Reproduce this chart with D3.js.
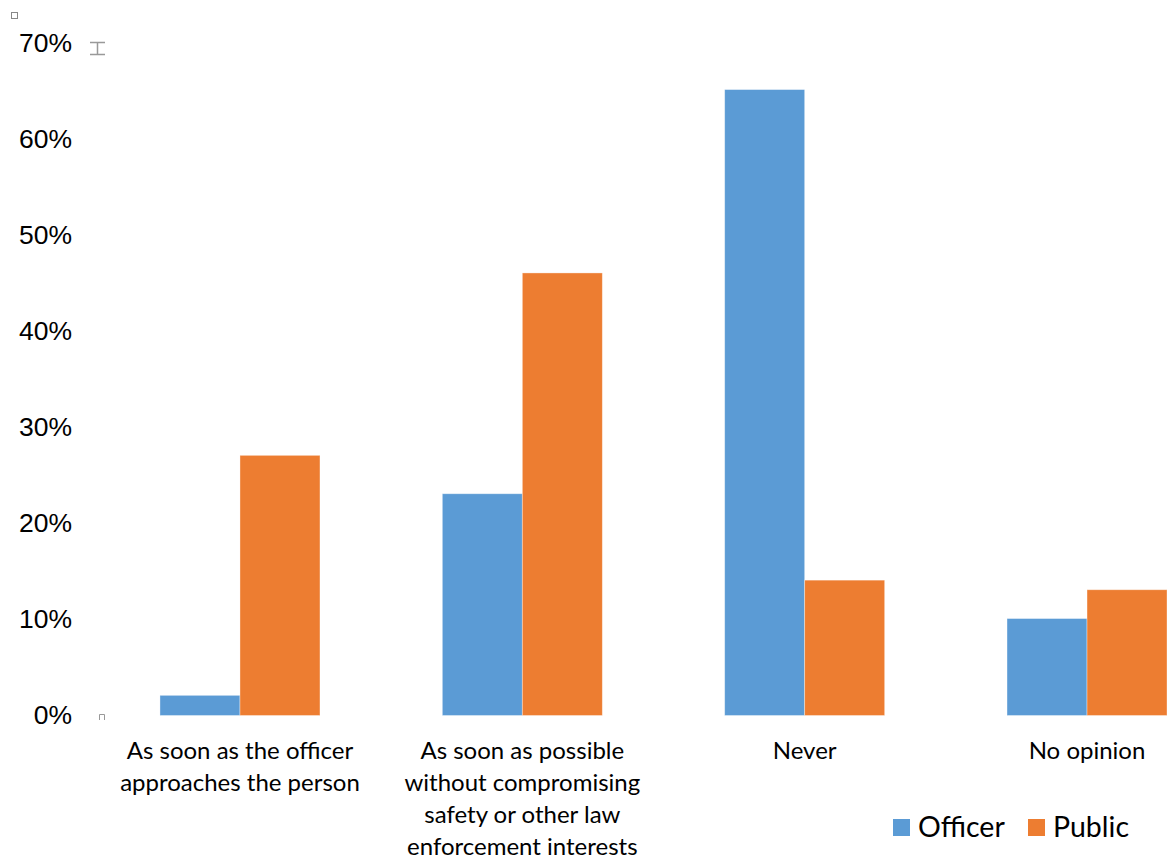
<!DOCTYPE html>
<html>
<head>
<meta charset="utf-8">
<script src="https://cdn.jsdelivr.net/npm/d3@7/dist/d3.min.js"></script>
<style>
  html, body { margin: 0; padding: 0; background: #fff; }
  svg { display: block; }
</style>
</head>
<body>
<div id="chart"></div>
<script>
const categories = [
  "As soon as the officer approaches the person",
  "As soon as possible without compromising safety or other law enforcement interests",
  "Never",
  "No opinion"
];
const categoryLines = [
  ["As soon as the officer", "approaches the person"],
  ["As soon as possible", "without compromising", "safety or other law", "enforcement interests"],
  ["Never"],
  ["No opinion"]
];
const seriesNames = ["Officer", "Public"];
const officerValues = [2.1, 23.1, 65.2, 10.1];
const publicValues = [27.1, 46.1, 14.1, 13.1];
const yTicks = [0, 10, 20, 30, 40, 50, 60, 70];
const colors = ["#5B9BD5", "#ED7D31"];

const W = 1167, H = 857;
const svg = d3.select("#chart").append("svg").attr("width", W).attr("height", H);

const y = d3.scaleLinear().domain([0, 70]).range([715.5, 43.5]);
const x0 = d3.scaleBand().domain(categories).range([98.8, 1228.2])
  .paddingInner(0.4333).paddingOuter(0.21665);
const x1 = d3.scaleBand().domain(seriesNames).range([0, x0.bandwidth()]).padding(0);

const rows = categories.map((c, i) => ({
  cat: c,
  vals: [
    { s: "Officer", v: officerValues[i] },
    { s: "Public", v: publicValues[i] }
  ]
}));

const color = d3.scaleOrdinal().domain(seriesNames).range(colors);

// bars
const g = svg.append("g");
g.selectAll("g.grp").data(rows).join("g")
  .attr("class", "grp")
  .attr("transform", d => `translate(${x0(d.cat)},0)`)
  .selectAll("rect").data(d => d.vals).join("rect")
  .attr("x", d => x1(d.s))
  .attr("width", x1.bandwidth())
  .attr("y", d => y(d.v))
  .attr("height", d => y(0) - y(d.v))
  .attr("fill", d => color(d.s))
  .attr("stroke", "#ffffff")
  .attr("stroke-opacity", 0.45)
  .attr("stroke-width", 0.8);

// y axis (labels only)
const yAxis = d3.axisLeft(y).tickValues(yTicks).tickFormat(d => d + "%").tickSize(0).tickPadding(0);
const ya = svg.append("g").attr("transform", "translate(72,0)").call(yAxis);
ya.select(".domain").remove();
ya.selectAll("text")
  .attr("font-family", "Liberation Sans, Arial, sans-serif")
  .attr("font-size", 26.5)
  .attr("fill", "#000")
  .attr("dy", "0.32em");

// category labels
const xl = svg.append("g");
rows.forEach((r, i) => {
  const cx = x0(r.cat) + x0.bandwidth() / 2;
  const t = xl.append("text")
    .attr("x", cx)
    .attr("y", 758.5)
    .attr("text-anchor", "middle")
    .attr("font-family", "Lato, 'Open Sans', sans-serif")
    .attr("font-size", 24)
    .attr("fill", "#000");
  categoryLines[i].forEach((ln, j) => {
    t.append("tspan").attr("x", cx).attr("y", 758.5 + j * 32).text(ln);
  });
});

// legend
const legendX = [893, 1028];
const leg = svg.append("g");
seriesNames.forEach((s, i) => {
  leg.append("rect").attr("x", legendX[i]).attr("y", 819).attr("width", 17).attr("height", 17)
    .attr("fill", color(s));
  leg.append("text").attr("x", legendX[i] + 25).attr("y", 837)
    .attr("font-family", "Lato, 'Open Sans', sans-serif")
    .attr("font-size", 28.5)
    .attr("fill", "#000")
    .text(s);
});

// small UI artifacts present in the reference picture
const art = svg.append("g").attr("fill", "none").attr("stroke", "#888").attr("stroke-width", 1);
art.append("rect").attr("x", 11.5).attr("y", 12.5).attr("width", 6).attr("height", 6);
art.append("path").attr("d", "M90,42.5 H105 M90,54.5 H105 M97.5,42.5 V54.5").attr("stroke-width", 1.5).attr("stroke", "#999");
art.append("path").attr("d", "M99.5,720 V714.5 H104.5 V720").attr("stroke", "#999");
</script>
</body>
</html>
